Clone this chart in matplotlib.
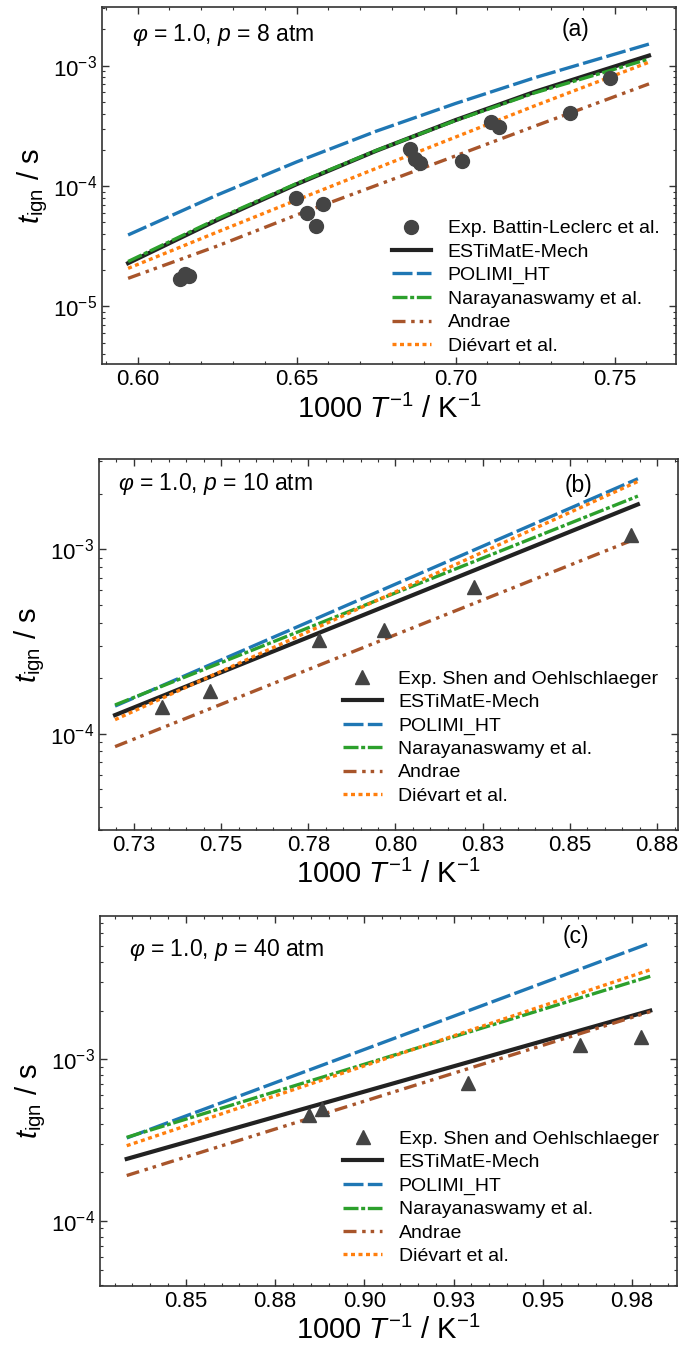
import matplotlib
matplotlib.use("Agg")
import matplotlib.pyplot as plt
from matplotlib.ticker import FixedLocator, MultipleLocator, FixedFormatter, LogLocator, NullFormatter

plt.rcParams['font.family'] = ['Liberation Sans', 'DejaVu Sans']
plt.rcParams['mathtext.fontset'] = 'custom'
plt.rcParams['mathtext.rm'] = 'Liberation Sans'
plt.rcParams['mathtext.it'] = 'Liberation Sans:italic'
plt.rcParams['mathtext.bf'] = 'Liberation Sans:bold'

# ---------------- data ----------------
# panel (a): phi = 1.0, p = 8 atm
a_exp_x = [0.6132, 0.6149, 0.6162, 0.6498, 0.6532, 0.6562, 0.6582, 0.6855, 0.6873,
           0.6889, 0.7019, 0.7111, 0.7137, 0.7360, 0.7485]
a_exp_t = [1.68e-5, 1.86e-5, 1.79e-5, 8.0e-5, 6.0e-5, 4.68e-5, 7.08e-5, 2.04e-4, 1.66e-4,
           1.55e-4, 1.61e-4, 3.40e-4, 3.09e-4, 4.04e-4, 7.86e-4]
a_x = [0.597, 0.625, 0.650, 0.675, 0.700, 0.725, 0.7608]
a_estimate = [2.286e-5, 5.21e-5, 1.035e-4, 1.96e-4, 3.53e-4, 6.07e-4, 1.211e-3]
a_polimi = [3.92e-5, 8.41e-5, 1.585e-4, 2.85e-4, 4.85e-4, 7.95e-4, 1.51e-3]
a_naray = [2.36e-5, 5.33e-5, 1.05e-4, 1.97e-4, 3.50e-4, 5.95e-4, 1.135e-3]
a_andrae = [1.71e-5, 3.17e-5, 5.75e-5, 1.01e-4, 1.78e-4, 3.15e-4, 7.05e-4]
a_dievart = [2.07e-5, 4.14e-5, 7.64e-5, 1.40e-4, 2.55e-4, 4.65e-4, 1.067e-3]

# panel (b): phi = 1.0, p = 10 atm
b_exp_x = [0.7331, 0.7468, 0.7782, 0.7968, 0.8224, 0.8675]
b_exp_t = [1.40e-4, 1.71e-4, 3.21e-4, 3.66e-4, 6.22e-4, 1.20e-3]
b_x = [0.7196, 0.8695]
b_estimate = [1.26e-4, 1.75e-3]
b_polimi = [1.41e-4, 2.41e-3]
b_naray = [1.43e-4, 1.94e-3]
b_andrae = [8.5e-5, 1.15e-3]
b_dievart = [1.19e-4, 2.33e-3]

# panel (c): phi = 1.0, p = 40 atm
c_exp_x = [0.8846, 0.8880, 0.9291, 0.9605, 0.9774]
c_exp_t = [4.52e-4, 4.92e-4, 7.18e-4, 1.22e-3, 1.38e-3]
c_x = [0.8334, 0.9801]
c_estimate = [2.42e-4, 2.0e-3]
c_polimi = [3.26e-4, 5.24e-3]
c_naray = [3.29e-4, 3.26e-3]
c_andrae = [1.91e-4, 1.97e-3]
c_dievart = [2.92e-4, 3.58e-3]

model_names = ["ESTiMatE-Mech", "POLIMI_HT", "Narayanaswamy et al.", "Andrae", "Diévart et al."]
exp_names = ["Exp. Battin-Leclerc et al.", "Exp. Shen and Oehlschlaeger", "Exp. Shen and Oehlschlaeger"]
annotations = [r"$\varphi$ = 1.0, $p$ = 8 atm", r"$\varphi$ = 1.0, $p$ = 10 atm", r"$\varphi$ = 1.0, $p$ = 40 atm"]
panel_labels = ["(a)", "(b)", "(c)"]

a_xticks = [0.60, 0.65, 0.70, 0.75]
a_xticklabels = ["0.60", "0.65", "0.70", "0.75"]
b_xticks = [0.725, 0.75, 0.775, 0.80, 0.825, 0.85, 0.875]
b_xticklabels = ["0.73", "0.75", "0.78", "0.80", "0.83", "0.85", "0.88"]
c_xticks = [0.85, 0.875, 0.90, 0.925, 0.95, 0.975]
c_xticklabels = ["0.85", "0.88", "0.90", "0.93", "0.95", "0.98"]

# ---------------- styles ----------------
colors = ["#222222", "#1f77b4", "#2ca02c", "#a8552b", "#ff7f0e"]
dashes = [None, (6.0, 1.3), (4.5, 0.8, 1.2, 0.8), (3.9, 1.7, 1.05, 1.5, 1.05, 1.7), (1.2, 1.05)]
lws = [3.0, 2.4, 2.4, 2.4, 2.4]

fig = plt.figure(figsize=(6.81, 13.49), dpi=100)

panels = [
    dict(rect=[0.1498, 0.7299, 0.8429, 0.2647], ex=a_exp_x, et=a_exp_t, marker='o', ms=10,
         x=a_x, models=[a_estimate, a_polimi, a_naray, a_andrae, a_dievart],
         xlim=(0.5888, 0.7693), ylim=(3.3e-6, 3.05e-3), xticks=a_xticks, xtl=a_xticklabels,
         minor=0.01, ann=(0.052, 0.922), lab=(0.824, 0.939), leg=(0.505, 0.405)),
    dict(rect=[0.1454, 0.3847, 0.8502, 0.2748], ex=b_exp_x, et=b_exp_t, marker='^', ms=10,
         x=b_x, models=[b_estimate, b_polimi, b_naray, b_andrae, b_dievart],
         xlim=(0.715, 0.881), ylim=(3.0e-5, 3.07e-3), xticks=b_xticks, xtl=b_xticklabels,
         minor=0.005, ann=(0.033, 0.933), lab=(0.829, 0.93), leg=(0.421, 0.432)),
    dict(rect=[0.1468, 0.0467, 0.8473, 0.2743], ex=c_exp_x, et=c_exp_t, marker='^', ms=10,
         x=c_x, models=[c_estimate, c_polimi, c_naray, c_andrae, c_dievart],
         xlim=(0.8259, 0.9876), ylim=(3.96e-5, 7.7e-3), xticks=c_xticks, xtl=c_xticklabels,
         minor=0.005, ann=(0.051, 0.909), lab=(0.825, 0.944), leg=(0.4215, 0.421)),
]

for i, p in enumerate(panels):
    ax = fig.add_axes(p['rect'])
    ax.set_yscale('log')
    ax.plot(p['ex'], p['et'], linestyle='none', marker=p['marker'], ms=p['ms'],
            color='#444444', mec='#444444', label=exp_names[i], zorder=6)
    for j, (name, vals) in enumerate(zip(model_names, p['models'])):
        kw = dict(color=colors[j], lw=lws[j], label=name, zorder=3 if j == 0 else 4)
        line, = ax.plot(p['x'], vals, **kw)
        if dashes[j] is not None:
            line.set_dashes(dashes[j])
            line.set_dash_capstyle('butt')
    ax.set_xlim(*p['xlim'])
    ax.set_ylim(*p['ylim'])
    ax.xaxis.set_major_locator(FixedLocator(p['xticks']))
    ax.xaxis.set_major_formatter(FixedFormatter(p['xtl']))
    ax.xaxis.set_minor_locator(MultipleLocator(p['minor']))
    ax.yaxis.set_major_locator(LogLocator(base=10, numticks=10))
    ax.yaxis.set_minor_locator(LogLocator(base=10, subs=range(2, 10), numticks=20))
    ax.yaxis.set_minor_formatter(NullFormatter())
    ax.tick_params(which='both', direction='in', top=True, right=True, labelsize=16, color='#333333')
    ax.tick_params(which='major', length=5, width=1.0)
    ax.tick_params(which='minor', length=2.5, width=0.8)
    for s in ax.spines.values():
        s.set_color('#333333')
        s.set_linewidth(1.2)
    ax.set_xlabel(r"1000 $T^{-1}$ / K$^{-1}$", fontsize=21, labelpad=3)
    ax.set_ylabel(r"$t_{\mathrm{ign}}$ / s", fontsize=21, labelpad=2)
    ax.text(p['ann'][0], p['ann'][1], annotations[i], transform=ax.transAxes,
            fontsize=16.5, ha='left', va='center')
    ax.text(p['lab'][0], p['lab'][1], panel_labels[i], transform=ax.transAxes,
            fontsize=16.5, ha='center', va='center')
    ax.legend(loc='upper left', bbox_to_anchor=p['leg'], frameon=False, fontsize=14,
              borderpad=0, labelspacing=0.3, handlelength=2.0, handletextpad=0.86,
              borderaxespad=0, numpoints=1)

fig.savefig("out.png", dpi=100)
